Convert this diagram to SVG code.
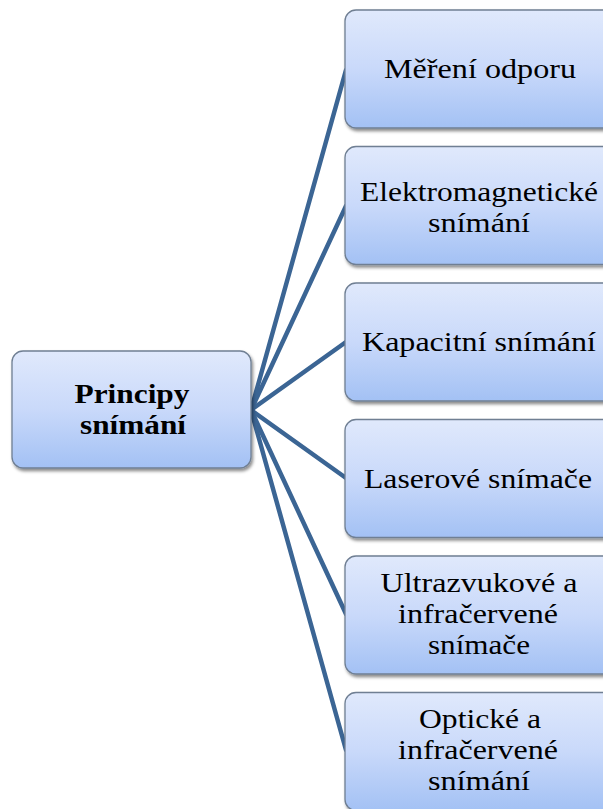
<svg xmlns="http://www.w3.org/2000/svg" width="603" height="809" viewBox="0 0 603 809">
<defs>
<linearGradient id="g" x1="0" y1="0" x2="0" y2="1">
<stop offset="0" stop-color="#e0e9fc"/>
<stop offset="0.5" stop-color="#c9d9fa"/>
<stop offset="1" stop-color="#a3c1f4"/>
</linearGradient>
<filter id="sh" x="-10%" y="-10%" width="130%" height="130%">
<feDropShadow dx="1.5" dy="2.5" stdDeviation="1.8" flood-color="#000" flood-opacity="0.45"/>
</filter>
</defs>
<style>
.box{fill:url(#g);stroke:#6f7f93;stroke-width:1.3;filter:url(#sh)}
.t{font-family:'Liberation Serif','Times New Roman',serif;font-size:27px;fill:#000;text-anchor:middle}
.b{font-weight:bold}
.c{stroke:#3b6594;stroke-width:4.5;fill:none;stroke-linecap:round}
</style>
<rect width="603" height="809" fill="#fff"/>
<g id="connectors">
<line class="c" x1="251" y1="410" x2="346" y2="70"/>
<line class="c" x1="251" y1="410" x2="346" y2="206"/>
<line class="c" x1="251" y1="410" x2="346" y2="342"/>
<line class="c" x1="251" y1="410" x2="346" y2="478"/>
<line class="c" x1="251" y1="410" x2="346" y2="614"/>
<line class="c" x1="251" y1="410" x2="346" y2="750"/>
</g>
<g id="center">
<rect class="box" x="12" y="351" width="239" height="117" rx="11"/>
<text class="t b" x="132" y="403" textLength="115" lengthAdjust="spacingAndGlyphs">Principy</text>
<text class="t b" x="133" y="434" textLength="106" lengthAdjust="spacingAndGlyphs">snímání</text>
</g>
<g id="n1">
<rect class="box" x="345" y="10" width="275" height="118" rx="11"/>
<text class="t" x="480" y="78" textLength="192" lengthAdjust="spacingAndGlyphs">Měření odporu</text>
</g>
<g id="n2">
<rect class="box" x="345" y="146.5" width="275" height="118" rx="11"/>
<text class="t" x="479" y="201" textLength="238" lengthAdjust="spacingAndGlyphs">Elektromagnetické</text>
<text class="t" x="479" y="232" textLength="102" lengthAdjust="spacingAndGlyphs">snímání</text>
</g>
<g id="n3">
<rect class="box" x="345" y="283" width="275" height="118" rx="11"/>
<text class="t" x="479" y="351" textLength="234" lengthAdjust="spacingAndGlyphs">Kapacitní snímání</text>
</g>
<g id="n4">
<rect class="box" x="345" y="419.5" width="275" height="118" rx="11"/>
<text class="t" x="478" y="488" textLength="228" lengthAdjust="spacingAndGlyphs">Laserové snímače</text>
</g>
<g id="n5">
<rect class="box" x="345" y="556" width="275" height="118" rx="11"/>
<text class="t" x="479" y="592" textLength="197" lengthAdjust="spacingAndGlyphs">Ultrazvukové a</text>
<text class="t" x="478" y="623" textLength="160" lengthAdjust="spacingAndGlyphs">infračervené</text>
<text class="t" x="479" y="654" textLength="102" lengthAdjust="spacingAndGlyphs">snímače</text>
</g>
<g id="n6">
<rect class="box" x="345" y="692.5" width="275" height="118" rx="11"/>
<text class="t" x="480" y="728" textLength="122" lengthAdjust="spacingAndGlyphs">Optické a</text>
<text class="t" x="478" y="759" textLength="160" lengthAdjust="spacingAndGlyphs">infračervené</text>
<text class="t" x="479" y="790" textLength="102" lengthAdjust="spacingAndGlyphs">snímání</text>
</g>
</svg>
